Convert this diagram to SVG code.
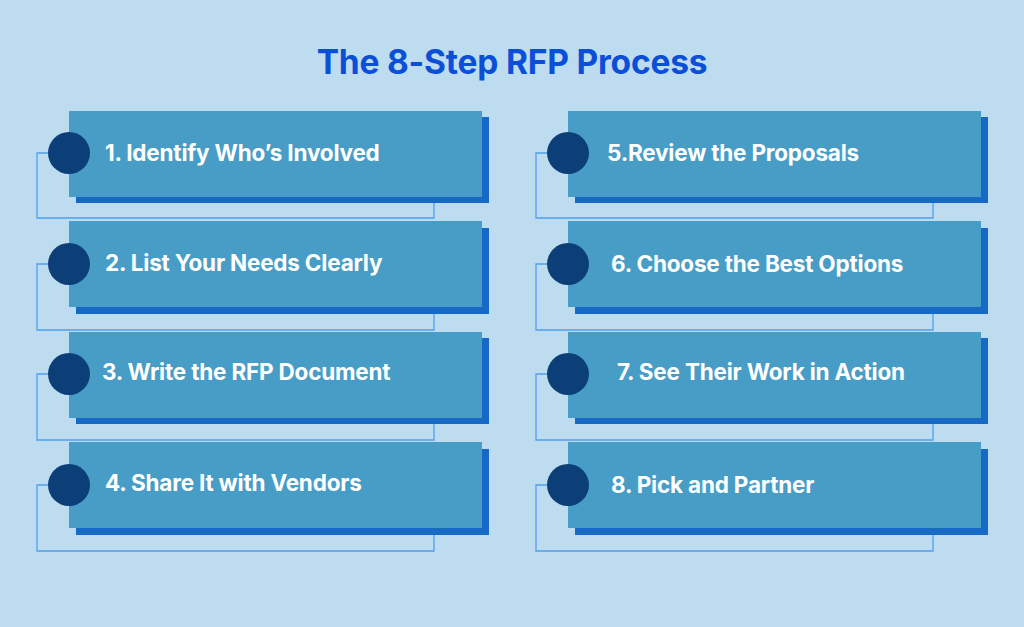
<svg xmlns="http://www.w3.org/2000/svg" width="1024" height="627" viewBox="0 0 1024 627">
<style>
.bg{fill:#bddcf0}
.shadow{fill:#1669c4}
.box{fill:#479dc6}
.dot{fill:#0c3e78}
.conn{fill:none;stroke:#4f9ff0;stroke-width:1.3}
.lbl{font-family:Inter,"Liberation Sans",sans-serif;font-weight:700;font-size:22.5px;letter-spacing:-0.2px;fill:#ffffff}
.title{font-family:Inter,"Liberation Sans",sans-serif;font-weight:700;font-size:33.5px;letter-spacing:-0.2px;fill:#0b4fd8}
</style>
<rect class="bg" x="0" y="0" width="1024" height="627"/>
<text class="title" x="512" y="74" text-anchor="middle">The 8-Step RFP Process</text>
<g id="connectors">
<path class="conn" d="M48 153 H37 V218 H434 V203"/>
<path class="conn" d="M48 264 H37 V330 H434 V314"/>
<path class="conn" d="M48 374 H37 V440 H434 V424"/>
<path class="conn" d="M48 485 H37 V551 H434 V535"/>
<path class="conn" d="M547 153 H536 V218 H933 V203"/>
<path class="conn" d="M547 264 H536 V330 H933 V314"/>
<path class="conn" d="M547 374 H536 V440 H933 V424"/>
<path class="conn" d="M547 485 H536 V551 H933 V535"/>
</g>
<g id="step1">
<rect class="shadow" x="76" y="117" width="413" height="86"/>
<rect class="box" x="69" y="111" width="413" height="86"/>
<circle class="dot" cx="69" cy="153" r="21"/>
<text class="lbl" x="105" y="161">1. Identify Who’s Involved</text>
</g>
<g id="step2">
<rect class="shadow" x="76" y="228" width="413" height="86"/>
<rect class="box" x="69" y="221" width="413" height="86"/>
<circle class="dot" cx="69" cy="264" r="21"/>
<text class="lbl" x="105" y="271">2. List Your Needs Clearly</text>
</g>
<g id="step3">
<rect class="shadow" x="76" y="338" width="413" height="86"/>
<rect class="box" x="69" y="332" width="413" height="86"/>
<circle class="dot" cx="69" cy="374" r="21"/>
<text class="lbl" x="102" y="380">3. Write the RFP Document</text>
</g>
<g id="step4">
<rect class="shadow" x="76" y="449" width="413" height="86"/>
<rect class="box" x="69" y="442" width="413" height="86"/>
<circle class="dot" cx="69" cy="485" r="21"/>
<text class="lbl" x="105" y="491">4. Share It with Vendors</text>
</g>
<g id="step5">
<rect class="shadow" x="575" y="117" width="413" height="86"/>
<rect class="box" x="568" y="111" width="413" height="86"/>
<circle class="dot" cx="568" cy="153" r="21"/>
<text class="lbl" x="607" y="161">5.Review the Proposals</text>
</g>
<g id="step6">
<rect class="shadow" x="575" y="228" width="413" height="86"/>
<rect class="box" x="568" y="221" width="413" height="86"/>
<circle class="dot" cx="568" cy="264" r="21"/>
<text class="lbl" x="611" y="272">6. Choose the Best Options</text>
</g>
<g id="step7">
<rect class="shadow" x="575" y="338" width="413" height="86"/>
<rect class="box" x="568" y="332" width="413" height="86"/>
<circle class="dot" cx="568" cy="374" r="21"/>
<text class="lbl" x="617" y="380">7. See Their Work in Action</text>
</g>
<g id="step8">
<rect class="shadow" x="575" y="449" width="413" height="86"/>
<rect class="box" x="568" y="442" width="413" height="86"/>
<circle class="dot" cx="568" cy="485" r="21"/>
<text class="lbl" x="611" y="493">8. Pick and Partner</text>
</g>
</svg>
